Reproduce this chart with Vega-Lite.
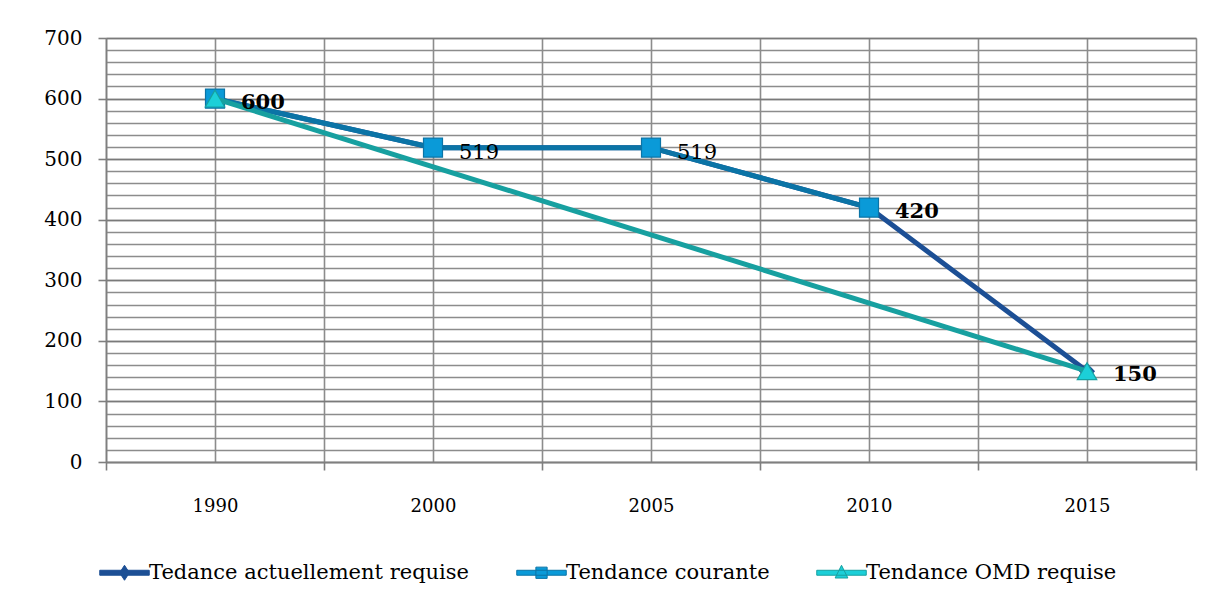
{
  "$schema": "https://vega.github.io/schema/vega-lite/v6.json",
  "width": 1090,
  "height": 424,
  "autosize": {"type": "none"},
  "padding": {"left": 106, "top": 38, "right": 17, "bottom": 143},
  "background": "white",
  "config": {
    "view": {"stroke": null},
    "font": "DejaVu Serif",
    "axis": {"gridColor": "#8c8c8c", "gridWidth": 1.6, "domainColor": "#7f7f7f", "domainWidth": 1.6, "tickColor": "#7f7f7f", "tickWidth": 1.6, "labelFont": "DejaVu Serif", "labelColor": "#000000", "title": null}
  },
  "datasets": {
    "series": [
      {"year": "1990", "series": "Tedance actuellement requise", "value": 600},
      {"year": "2000", "series": "Tedance actuellement requise", "value": 519},
      {"year": "2005", "series": "Tedance actuellement requise", "value": 519},
      {"year": "2010", "series": "Tedance actuellement requise", "value": 420},
      {"year": "2015", "series": "Tedance actuellement requise", "value": 150},
      {"year": "1990", "series": "Tendance courante", "value": 600},
      {"year": "2000", "series": "Tendance courante", "value": 519},
      {"year": "2005", "series": "Tendance courante", "value": 519},
      {"year": "2010", "series": "Tendance courante", "value": 420},
      {"year": "1990", "series": "Tendance OMD requise", "value": 600},
      {"year": "2015", "series": "Tendance OMD requise", "value": 150}
    ]
  },
  "data": {"name": "series"},
  "resolve": {"axis": {"x": "independent", "y": "independent"}},
  "layer": [
    {
      "transform": [{"filter": {"field": "series", "equal": "Tedance actuellement requise"}}],
      "mark": {"type": "line", "strokeWidth": 5, "color": "#1C4F95"},
      "encoding": {
        "x": {"field": "year", "type": "ordinal", "sort": ["1990", "2000", "2005", "2010", "2015"],
              "scale": {"type": "band", "paddingInner": 0, "paddingOuter": 0},
              "axis": {"orient": "top", "grid": true, "labels": false, "ticks": false, "domain": false}},
        "y": {"field": "value", "type": "quantitative", "scale": {"domain": [0, 700], "nice": false, "zero": true},
              "axis": {"orient": "right", "grid": true, "labels": false, "ticks": false, "domain": false,
                       "values": [0,20,40,60,80,100,120,140,160,180,200,220,240,260,280,300,320,340,360,380,400,420,440,460,480,500,520,540,560,580,600,620,640,660,680,700]}}
      }
    },
    {
      "transform": [{"filter": {"field": "series", "equal": "Tedance actuellement requise"}}],
      "mark": {"type": "point", "shape": "diamond", "filled": true, "size": 260, "color": "#1C4F95", "opacity": 1},
      "encoding": {
        "x": {"field": "year", "type": "ordinal", "sort": ["1990", "2000", "2005", "2010", "2015"], "axis": null},
        "y": {"field": "value", "type": "quantitative", "axis": null}
      }
    },
    {
      "transform": [{"filter": {"field": "series", "equal": "Tendance courante"}}],
      "mark": {"type": "line", "strokeWidth": 5},
      "encoding": {
        "x": {"field": "year", "type": "ordinal", "sort": ["1990", "2000", "2005", "2010", "2015"],
              "axis": {"orient": "bottom", "grid": true, "tickBand": "extent", "tickSize": 8, "labelPadding": 27, "labelFontSize": 18, "labelAngle": 0}},
        "y": {"field": "value", "type": "quantitative",
              "axis": {"orient": "left", "grid": true, "values": [0,100,200,300,400,500,600,700], "tickSize": 8, "labelPadding": 16, "labelFontSize": 20, "gridColor": "#7a7a7a"}},
        "color": {"field": "series", "type": "nominal",
                  "scale": {"domain": ["Tedance actuellement requise", "Tendance courante", "Tendance OMD requise"], "range": ["#1C4F95", "#0B74A6", "#17A0A0"]},
                  "legend": {"orient": "none", "legendX": 8, "legendY": 524, "direction": "horizontal", "title": null,
                             "labelFont": "DejaVu Serif", "labelFontSize": 21, "labelColor": "#000000", "labelLimit": 600,
                             "symbolSize": 225, "labelOffset": 14, "columnPadding": 44,
                             "encode": {"symbols": {"update": {
                               "shape": {"signal": "datum.value === 'Tendance courante' ? 'M-3.3,-0.33H3.3V0.33H-3.3Z M-0.75,-0.75H0.75V0.75H-0.75Z' : datum.value === 'Tendance OMD requise' ? 'M-3.3,-0.33H3.3V0.33H-3.3Z M0,-1L0.85,0.7H-0.85Z' : 'M-3.3,-0.33H3.3V0.33H-3.3Z M0,-1L0.65,0L0,1L-0.65,0Z'"},
                               "fill": {"signal": "datum.value === 'Tendance courante' ? '#0A9AD8' : datum.value === 'Tendance OMD requise' ? '#1CCFD8' : '#1C4F95'"},
                               "stroke": {"signal": "datum.value === 'Tendance courante' ? '#0B74A6' : datum.value === 'Tendance OMD requise' ? '#17A0A0' : '#1C4F95'"},
                               "strokeWidth": {"value": 1},
                               "opacity": {"value": 1}
                             }}}}
        }
      }
    },
    {
      "transform": [{"filter": {"field": "series", "equal": "Tendance courante"}}],
      "mark": {"type": "point", "shape": "square", "filled": true, "size": 361, "fill": "#0A9AD8", "stroke": "#0B74A6", "strokeWidth": 1.2, "opacity": 1},
      "encoding": {
        "x": {"field": "year", "type": "ordinal", "sort": ["1990", "2000", "2005", "2010", "2015"], "axis": null},
        "y": {"field": "value", "type": "quantitative", "axis": null}
      }
    },
    {
      "transform": [{"filter": {"field": "series", "equal": "Tendance OMD requise"}}],
      "mark": {"type": "line", "strokeWidth": 5, "color": "#17A0A0"},
      "encoding": {
        "x": {"field": "year", "type": "ordinal", "sort": ["1990", "2000", "2005", "2010", "2015"], "axis": null},
        "y": {"field": "value", "type": "quantitative", "axis": null}
      }
    },
    {
      "transform": [{"filter": {"field": "series", "equal": "Tendance OMD requise"}}],
      "mark": {"type": "point", "shape": "triangle-up", "filled": true, "size": 380, "fill": "#1CCFD8", "stroke": "#17A0A0", "strokeWidth": 1.2, "opacity": 1},
      "encoding": {
        "x": {"field": "year", "type": "ordinal", "sort": ["1990", "2000", "2005", "2010", "2015"], "axis": null},
        "y": {"field": "value", "type": "quantitative", "axis": null}
      }
    },
    {
      "transform": [{"filter": {"field": "series", "equal": "Tedance actuellement requise"}}, {"filter": {"field": "year", "oneOf": ["1990", "2010", "2015"]}}],
      "mark": {"type": "text", "align": "left", "baseline": "middle", "dx": 26, "dy": 4, "fontSize": 21, "fontWeight": "bold", "font": "DejaVu Serif", "color": "#000000"},
      "encoding": {
        "x": {"field": "year", "type": "ordinal", "sort": ["1990", "2000", "2005", "2010", "2015"], "axis": null},
        "y": {"field": "value", "type": "quantitative", "axis": null},
        "text": {"field": "value", "type": "quantitative"}
      }
    },
    {
      "transform": [{"filter": {"field": "series", "equal": "Tendance courante"}}, {"filter": {"field": "year", "oneOf": ["2000", "2005"]}}],
      "mark": {"type": "text", "align": "left", "baseline": "middle", "dx": 26, "dy": 5, "fontSize": 21, "font": "DejaVu Serif", "color": "#000000"},
      "encoding": {
        "x": {"field": "year", "type": "ordinal", "sort": ["1990", "2000", "2005", "2010", "2015"], "axis": null},
        "y": {"field": "value", "type": "quantitative", "axis": null},
        "text": {"field": "value", "type": "quantitative"}
      }
    }
  ]
}
